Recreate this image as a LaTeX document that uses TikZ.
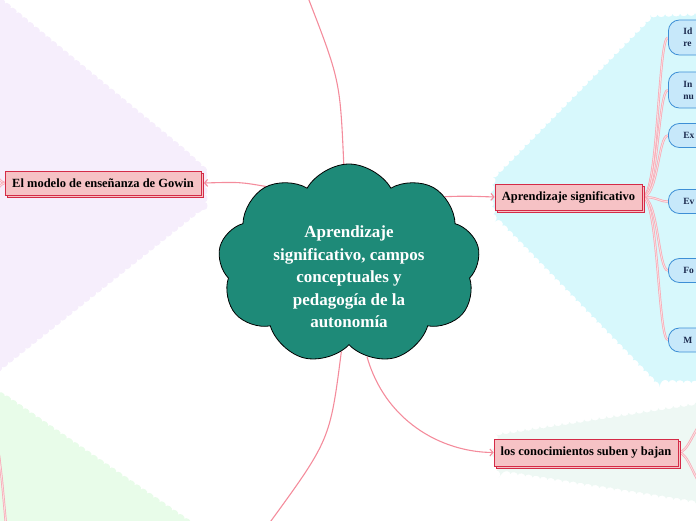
\documentclass[tikz,border=0pt]{standalone}
\usepackage{fontspec}
\setmainfont{Liberation Serif}
\usetikzlibrary{shapes.symbols,shadows,arrows.meta,decorations.pathmorphing}
\definecolor{purplebg}{HTML}{F6EEFC}
\definecolor{cyanbg}{HTML}{D7F8FC}
\definecolor{mintbg}{HTML}{EEF8F4}
\definecolor{greenbg}{HTML}{E8FCE9}
\definecolor{cloudteal}{HTML}{1E8A78}
\definecolor{boxpink}{HTML}{F6C2C5}
\definecolor{boxred}{HTML}{D42B47}
\definecolor{linkpink}{HTML}{F48C9C}
\definecolor{leaffill}{HTML}{C7E8FA}
\definecolor{leafblue}{HTML}{3D8FD6}
\definecolor{leaftext}{HTML}{1B2A4E}
\pgfdeclarelayer{bgfill}
\pgfdeclarelayer{links}
\pgfsetlayers{bgfill,links,main}
\begin{document}
\begin{tikzpicture}[x=1pt,y=-1pt,
  region/.style={decorate, decoration={bumps, segment length=15pt, amplitude=2.5pt}},
  topicbox/.style={draw=boxred, fill=boxpink, line width=0.8pt, inner sep=0pt,
    font=\bfseries\fontsize{12.5}{14}\selectfont,
    copy shadow={shadow xshift=2.5pt, shadow yshift=-2.5pt}},
  leaf/.style={draw=leafblue, fill=leaffill, line width=0.8pt, rounded corners=11pt,
    anchor=west, text width=50pt, align=left, inner xsep=15pt, inner ysep=2pt,
    text=leaftext, font=\bfseries\fontsize{9.5}{12}\selectfont},
  link/.style={draw=linkpink, line width=1.1pt},
  arr/.style={-{Straight Barb[length=3pt,width=7pt]}},
  leaflink/.style={draw=linkpink!75, double=linkpink!30, double distance=0.9pt, line width=0.7pt}
]
\useasboundingbox (0,0) rectangle (696,520);

% nodes
\node[cloud, cloud puffs=9, cloud puff arc=120, aspect=1.3, minimum width=262pt,
  minimum height=200pt, fill=cloudteal, draw=black, line width=0.8pt] (cloud) at (349,264) {};
\node[align=center, text=white, font=\bfseries\fontsize{17}{22.5}\selectfont] (title) at (349,277)
  {Aprendizaje\\significativo, campos\\conceptuales y\\pedagogía de la\\autonomía};

\node[topicbox, minimum width=196pt, minimum height=24pt] (gowin) at (103,183) {El modelo de enseñanza de Gowin};
\node[topicbox, minimum width=147pt, minimum height=26pt] (aprend) at (568.5,197) {Aprendizaje significativo};
\node[topicbox, minimum width=184pt, minimum height=27pt] (know) at (586,452.5) {los conocimientos suben y bajan};

\node[leaf, minimum height=35pt] (l1) at (668,37.5) {Id\\re};
\node[leaf, minimum height=36pt] (l2) at (668,90) {In\\nu};
\node[leaf, minimum height=24pt] (l3) at (668,135.5) {Ex};
\node[leaf, minimum height=24pt] (l4) at (668,201.5) {Ev};
\node[leaf, minimum height=24pt] (l5) at (668,270.5) {Fo};
\node[leaf, minimum height=24pt] (l6) at (668,340) {M};

\coordinate (topend) at (307,-5);
\coordinate (botend) at (268,525);
\coordinate (kx1) at (704,420);
\coordinate (kx2) at (704,488);
\coordinate (gx1) at (-8,170);
\coordinate (gx2) at (-8,196);
\coordinate (gl1) at (-1,455);
\coordinate (gl2) at (6,525);

% background regions
\begin{pgfonlayer}{bgfill}
\fill[purplebg, region] (-30,-25) -- (183,150) -- (205,170) -- (205,205) -- (-30,392) -- cycle;
\fill[cyanbg, region] (725,12) -- (652,15) -- (494,176) -- (490,197) -- (494,217) -- (654,382) -- (725,384) -- cycle;
\fill[mintbg, region] (725,398) -- (497,433) -- (491,452) -- (497,472) -- (725,508) -- cycle;
\fill[greenbg, region] (-30,382) -- (4,396) -- (215,540) -- (-30,540) -- cycle;
\end{pgfonlayer}

% connectors
\begin{pgfonlayer}{links}
\draw[link] (cloud.93) .. controls (340,80) .. (topend);
\draw[link, arr] (cloud.137) .. controls (240,182) .. ([xshift=2.5pt]gowin.east);
\draw[link, arr] (cloud.35) .. controls (465,196) .. (aprend.west);
\draw[link, arr] (cloud.-79) .. controls (385,420) and (440,452) .. (know.west);
\draw[link] (cloud.-95) .. controls (330,440) .. (botend);
\foreach \n in {l1,l2,l3,l4,l5,l6}
  \draw[leaflink] (aprend.east) .. controls +(16,0) and +(-10,0) .. (\n.west);
\draw[leaflink] (know.east) .. controls +(10,0) and +(-10,8) .. (kx1);
\draw[leaflink] (know.east) .. controls +(10,0) and +(-10,-8) .. (kx2);
\draw[leaflink] (gowin.west) .. controls +(-4,0) and +(4,4) .. (gx1);
\draw[leaflink] (gowin.west) .. controls +(-4,0) and +(4,-4) .. (gx2);
\draw[leaflink] (gl1) .. controls (2,480) .. (gl2);
\end{pgfonlayer}
\end{tikzpicture}
\end{document}
